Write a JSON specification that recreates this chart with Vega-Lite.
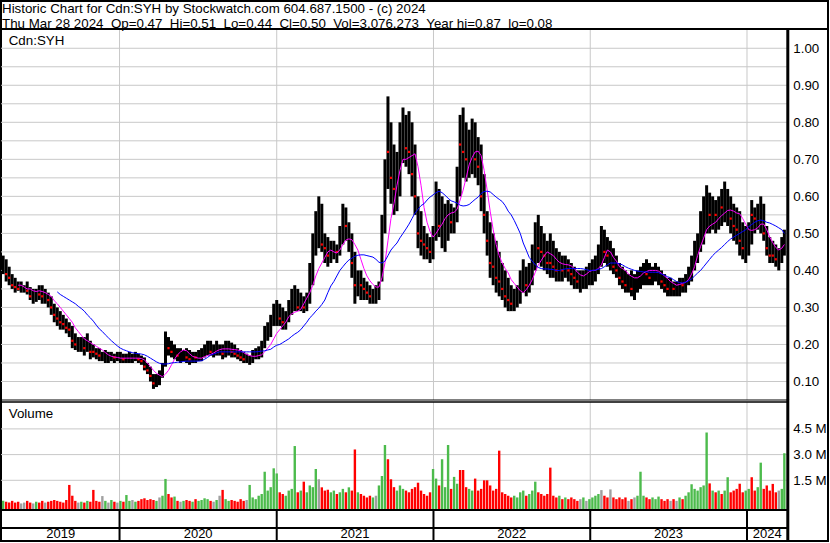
{
"$schema":"https://vega.github.io/schema/vega-lite/v6.json",
"width":827,"height":540,
"autosize":{"type":"none"},
"padding":{"left":1,"top":1,"right":2,"bottom":2},
"background":"white",
"title":{"text":["Historic Chart for Cdn:SYH by Stockwatch.com 604.687.1500 - (c) 2024","Thu Mar 28 2024\u00a0\u00a0Op=0.47\u00a0\u00a0Hi=0.51\u00a0\u00a0Lo=0.44\u00a0\u00a0Cl=0.50\u00a0\u00a0Vol=3,076,273\u00a0\u00a0Year hi=0.87\u00a0\u00a0lo=0.08"],"anchor":"start","frame":"group","orient":"top","offset":-29,"baseline":"top","lineHeight":15,"font":"Liberation Sans","fontSize":13.33,"fontWeight":"normal","color":"black","dx":1},
"config":{"view":{"stroke":"black","strokeWidth":2},"axis":{"grid":false,"domain":false,"ticks":false,"tickSize":0,"labelFont":"Liberation Sans","labelFontSize":13.33,"labelColor":"black","labelPadding":5}},
"datasets":{
"px":[
{"d":"2019-04-05","h":0.44,"l":0.39,"c":0.41,"v":0.3,"k":"g"},
{"d":"2019-04-12","h":0.43,"l":0.37,"c":0.39,"v":0.25,"k":"r"},
{"d":"2019-04-19","h":0.41,"l":0.36,"c":0.38,"v":0.2,"k":"r"},
{"d":"2019-04-26","h":0.39,"l":0.35,"c":0.36,"v":0.3,"k":"r"},
{"d":"2019-05-03","h":0.38,"l":0.34,"c":0.355,"v":0.2,"k":"r"},
{"d":"2019-05-10","h":0.37,"l":0.345,"c":0.35,"v":0.25,"k":"r","m":0.36},
{"d":"2019-05-17","h":0.37,"l":0.34,"c":0.35,"v":0.15,"k":"s","m":0.36},
{"d":"2019-05-24","h":0.36,"l":0.34,"c":0.35,"v":0.2,"k":"s","m":0.355},
{"d":"2019-05-31","h":0.37,"l":0.335,"c":0.345,"v":0.3,"k":"r","m":0.35},
{"d":"2019-06-07","h":0.355,"l":0.32,"c":0.33,"v":0.2,"k":"r","m":0.35},
{"d":"2019-06-14","h":0.35,"l":0.31,"c":0.33,"v":0.15,"k":"s","m":0.345},
{"d":"2019-06-21","h":0.35,"l":0.315,"c":0.34,"v":0.25,"k":"g","m":0.343},
{"d":"2019-06-28","h":0.36,"l":0.32,"c":0.335,"v":0.2,"k":"r","m":0.345},
{"d":"2019-07-05","h":0.36,"l":0.31,"c":0.33,"v":0.3,"k":"r","m":0.343},
{"d":"2019-07-12","h":0.35,"l":0.31,"c":0.33,"v":0.2,"k":"s","m":0.34},
{"d":"2019-07-19","h":0.34,"l":0.30,"c":0.32,"v":0.25,"k":"r","m":0.335},
{"d":"2019-07-26","h":0.33,"l":0.28,"c":0.30,"v":0.3,"k":"r","m":0.33},
{"d":"2019-08-02","h":0.31,"l":0.26,"c":0.28,"v":0.35,"k":"r","m":0.318},
{"d":"2019-08-09","h":0.30,"l":0.25,"c":0.27,"v":0.3,"k":"r","m":0.31,"n":0.342},
{"d":"2019-08-16","h":0.29,"l":0.24,"c":0.26,"v":0.25,"k":"r","m":0.30,"n":0.335},
{"d":"2019-08-23","h":0.28,"l":0.24,"c":0.255,"v":0.2,"k":"r","m":0.29,"n":0.33},
{"d":"2019-08-30","h":0.27,"l":0.23,"c":0.245,"v":0.35,"k":"r","m":0.28,"n":0.325},
{"d":"2019-09-06","h":0.26,"l":0.22,"c":0.24,"v":1.23,"k":"r","m":0.27,"n":0.32},
{"d":"2019-09-13","h":0.25,"l":0.19,"c":0.21,"v":0.6,"k":"r","m":0.26,"n":0.315},
{"d":"2019-09-20","h":0.23,"l":0.185,"c":0.20,"v":0.3,"k":"r","m":0.245,"n":0.31},
{"d":"2019-09-27","h":0.22,"l":0.18,"c":0.20,"v":0.2,"k":"s","m":0.235,"n":0.303},
{"d":"2019-10-04","h":0.22,"l":0.18,"c":0.20,"v":0.25,"k":"g","m":0.225,"n":0.297},
{"d":"2019-10-11","h":0.22,"l":0.17,"c":0.19,"v":0.2,"k":"r","m":0.215,"n":0.29},
{"d":"2019-10-18","h":0.23,"l":0.18,"c":0.195,"v":0.3,"k":"g","m":0.21,"n":0.28},
{"d":"2019-10-25","h":0.21,"l":0.16,"c":0.18,"v":0.25,"k":"r","m":0.205,"n":0.272},
{"d":"2019-11-01","h":0.20,"l":0.165,"c":0.18,"v":0.94,"k":"r","m":0.20,"n":0.263},
{"d":"2019-11-08","h":0.19,"l":0.16,"c":0.175,"v":0.3,"k":"r","m":0.195,"n":0.252},
{"d":"2019-11-15","h":0.19,"l":0.155,"c":0.17,"v":0.25,"k":"r","m":0.19,"n":0.242},
{"d":"2019-11-22","h":0.18,"l":0.155,"c":0.165,"v":0.58,"k":"s","m":0.185,"n":0.235},
{"d":"2019-11-29","h":0.185,"l":0.15,"c":0.165,"v":0.3,"k":"g","m":0.178,"n":0.226},
{"d":"2019-12-06","h":0.18,"l":0.15,"c":0.165,"v":0.2,"k":"s","m":0.172,"n":0.218},
{"d":"2019-12-13","h":0.18,"l":0.155,"c":0.17,"v":0.35,"k":"g","m":0.168,"n":0.21},
{"d":"2019-12-20","h":0.175,"l":0.15,"c":0.165,"v":0.25,"k":"r","m":0.166,"n":0.203},
{"d":"2019-12-27","h":0.18,"l":0.155,"c":0.165,"v":0.2,"k":"s","m":0.165,"n":0.196},
{"d":"2020-01-03","h":0.18,"l":0.15,"c":0.165,"v":0.3,"k":"g","m":0.163,"n":0.19},
{"d":"2020-01-10","h":0.175,"l":0.15,"c":0.16,"v":0.25,"k":"r","m":0.163,"n":0.186},
{"d":"2020-01-17","h":0.175,"l":0.15,"c":0.16,"v":0.64,"k":"g","m":0.163,"n":0.183},
{"d":"2020-01-24","h":0.18,"l":0.15,"c":0.165,"v":0.3,"k":"g","m":0.163,"n":0.18},
{"d":"2020-01-31","h":0.175,"l":0.15,"c":0.165,"v":0.35,"k":"s","m":0.163,"n":0.178},
{"d":"2020-02-07","h":0.18,"l":0.155,"c":0.165,"v":0.25,"k":"g","m":0.163,"n":0.176},
{"d":"2020-02-14","h":0.175,"l":0.15,"c":0.16,"v":0.3,"k":"r","m":0.163,"n":0.175},
{"d":"2020-02-21","h":0.17,"l":0.145,"c":0.155,"v":0.4,"k":"r","m":0.162,"n":0.174},
{"d":"2020-02-28","h":0.165,"l":0.13,"c":0.14,"v":0.45,"k":"r","m":0.158,"n":0.172},
{"d":"2020-03-06","h":0.15,"l":0.12,"c":0.13,"v":0.35,"k":"r","m":0.15,"n":0.168},
{"d":"2020-03-13","h":0.14,"l":0.10,"c":0.115,"v":0.4,"k":"r","m":0.14,"n":0.163},
{"d":"2020-03-20","h":0.12,"l":0.08,"c":0.095,"v":0.35,"k":"r","m":0.13,"n":0.158},
{"d":"2020-03-27","h":0.12,"l":0.085,"c":0.10,"v":0.3,"k":"g","m":0.122,"n":0.153},
{"d":"2020-04-03","h":0.13,"l":0.09,"c":0.12,"v":0.5,"k":"s","m":0.117,"n":0.149},
{"d":"2020-04-10","h":0.15,"l":0.11,"c":0.14,"v":0.6,"k":"g","m":0.113,"n":0.147},
{"d":"2020-04-17","h":0.235,"l":0.14,"c":0.20,"v":1.58,"k":"g","m":0.12,"n":0.147},
{"d":"2020-04-24","h":0.22,"l":0.17,"c":0.19,"v":0.7,"k":"r","m":0.13,"n":0.148},
{"d":"2020-05-01","h":0.21,"l":0.165,"c":0.18,"v":0.5,"k":"r","m":0.145,"n":0.15},
{"d":"2020-05-08","h":0.20,"l":0.16,"c":0.17,"v":0.55,"k":"g","m":0.16,"n":0.151},
{"d":"2020-05-15","h":0.19,"l":0.155,"c":0.17,"v":0.3,"k":"r","m":0.172,"n":0.152},
{"d":"2020-05-22","h":0.19,"l":0.15,"c":0.17,"v":0.25,"k":"s","m":0.18,"n":0.153},
{"d":"2020-05-29","h":0.185,"l":0.155,"c":0.175,"v":0.3,"k":"g","m":0.185,"n":0.154},
{"d":"2020-06-05","h":0.19,"l":0.15,"c":0.165,"v":0.35,"k":"r","m":0.183,"n":0.155},
{"d":"2020-06-12","h":0.185,"l":0.145,"c":0.16,"v":0.3,"k":"r","m":0.175,"n":0.155},
{"d":"2020-06-19","h":0.18,"l":0.15,"c":0.165,"v":0.25,"k":"g","m":0.168,"n":0.155},
{"d":"2020-06-26","h":0.18,"l":0.15,"c":0.165,"v":0.4,"k":"r","m":0.165,"n":0.155},
{"d":"2020-07-03","h":0.185,"l":0.155,"c":0.17,"v":0.3,"k":"g","m":0.163,"n":0.155},
{"d":"2020-07-10","h":0.19,"l":0.155,"c":0.175,"v":0.35,"k":"g","m":0.163,"n":0.156},
{"d":"2020-07-17","h":0.20,"l":0.165,"c":0.18,"v":0.45,"k":"g","m":0.167,"n":0.16},
{"d":"2020-07-24","h":0.21,"l":0.17,"c":0.19,"v":0.4,"k":"g","m":0.17,"n":0.165},
{"d":"2020-07-31","h":0.21,"l":0.17,"c":0.18,"v":0.3,"k":"r","m":0.173,"n":0.171},
{"d":"2020-08-07","h":0.20,"l":0.165,"c":0.18,"v":0.25,"k":"s","m":0.177,"n":0.174},
{"d":"2020-08-14","h":0.21,"l":0.17,"c":0.19,"v":0.35,"k":"g","m":0.182,"n":0.177},
{"d":"2020-08-21","h":0.20,"l":0.17,"c":0.18,"v":0.6,"k":"s","m":0.186,"n":0.18},
{"d":"2020-08-28","h":0.20,"l":0.16,"c":0.175,"v":0.94,"k":"r","m":0.188,"n":0.18},
{"d":"2020-09-04","h":0.21,"l":0.165,"c":0.18,"v":0.4,"k":"g","m":0.188,"n":0.18},
{"d":"2020-09-11","h":0.21,"l":0.17,"c":0.19,"v":0.3,"k":"g","m":0.188,"n":0.18},
{"d":"2020-09-18","h":0.205,"l":0.165,"c":0.18,"v":0.35,"k":"r","m":0.187,"n":0.18},
{"d":"2020-09-25","h":0.20,"l":0.165,"c":0.175,"v":0.3,"k":"r","m":0.186,"n":0.18},
{"d":"2020-10-02","h":0.19,"l":0.16,"c":0.17,"v":0.25,"k":"r","m":0.185,"n":0.18},
{"d":"2020-10-09","h":0.185,"l":0.155,"c":0.165,"v":0.4,"k":"r","m":0.183,"n":0.18},
{"d":"2020-10-16","h":0.18,"l":0.15,"c":0.16,"v":0.3,"k":"r","m":0.178,"n":0.18},
{"d":"2020-10-23","h":0.175,"l":0.15,"c":0.16,"v":0.35,"k":"s","m":0.173,"n":0.18},
{"d":"2020-10-30","h":0.17,"l":0.145,"c":0.155,"v":1.23,"k":"g","m":0.17,"n":0.18},
{"d":"2020-11-06","h":0.185,"l":0.15,"c":0.17,"v":0.5,"k":"g","m":0.168,"n":0.18},
{"d":"2020-11-13","h":0.19,"l":0.16,"c":0.175,"v":0.4,"k":"g","m":0.168,"n":0.18},
{"d":"2020-11-20","h":0.195,"l":0.16,"c":0.18,"v":0.6,"k":"g","m":0.17,"n":0.181},
{"d":"2020-11-27","h":0.21,"l":0.165,"c":0.19,"v":0.7,"k":"g","m":0.172,"n":0.182},
{"d":"2020-12-04","h":0.25,"l":0.19,"c":0.23,"v":2.0,"k":"g","m":0.18,"n":0.183},
{"d":"2020-12-11","h":0.26,"l":0.21,"c":0.24,"v":0.9,"k":"g","m":0.19,"n":0.185},
{"d":"2020-12-18","h":0.28,"l":0.22,"c":0.26,"v":1.1,"k":"g","m":0.20,"n":0.187},
{"d":"2020-12-25","h":0.31,"l":0.25,"c":0.28,"v":2.2,"k":"g","m":0.215,"n":0.193},
{"d":"2021-01-01","h":0.32,"l":0.25,"c":0.29,"v":1.9,"k":"g","m":0.23,"n":0.198},
{"d":"2021-01-08","h":0.31,"l":0.25,"c":0.27,"v":0.8,"k":"r","m":0.24,"n":0.20},
{"d":"2021-01-15","h":0.30,"l":0.24,"c":0.26,"v":0.7,"k":"r","m":0.25,"n":0.205},
{"d":"2021-01-22","h":0.29,"l":0.24,"c":0.27,"v":0.6,"k":"g","m":0.26,"n":0.21},
{"d":"2021-01-29","h":0.32,"l":0.26,"c":0.30,"v":0.9,"k":"g","m":0.275,"n":0.215},
{"d":"2021-02-05","h":0.35,"l":0.28,"c":0.32,"v":1.0,"k":"g","m":0.283,"n":0.222},
{"d":"2021-02-12","h":0.36,"l":0.29,"c":0.31,"v":3.5,"k":"g","m":0.287,"n":0.228},
{"d":"2021-02-19","h":0.35,"l":0.29,"c":0.30,"v":0.8,"k":"r","m":0.29,"n":0.233},
{"d":"2021-02-26","h":0.34,"l":0.29,"c":0.31,"v":0.9,"k":"g","m":0.295,"n":0.24},
{"d":"2021-03-05","h":0.33,"l":0.285,"c":0.30,"v":1.42,"k":"r","m":0.31,"n":0.25},
{"d":"2021-03-12","h":0.34,"l":0.29,"c":0.32,"v":0.8,"k":"g","m":0.325,"n":0.26},
{"d":"2021-03-19","h":0.42,"l":0.31,"c":0.38,"v":1.2,"k":"g","m":0.34,"n":0.272},
{"d":"2021-03-26","h":0.50,"l":0.36,"c":0.45,"v":1.1,"k":"g","m":0.36,"n":0.28},
{"d":"2021-04-02","h":0.56,"l":0.44,"c":0.50,"v":2.16,"k":"g","m":0.385,"n":0.29},
{"d":"2021-04-09","h":0.60,"l":0.46,"c":0.50,"v":1.56,"k":"s","m":0.405,"n":0.298},
{"d":"2021-04-16","h":0.58,"l":0.45,"c":0.47,"v":1.09,"k":"r","m":0.42,"n":0.308},
{"d":"2021-04-23","h":0.50,"l":0.42,"c":0.46,"v":0.9,"k":"r","m":0.435,"n":0.32},
{"d":"2021-04-30","h":0.49,"l":0.41,"c":0.44,"v":0.95,"k":"r","m":0.45,"n":0.34},
{"d":"2021-05-07","h":0.48,"l":0.42,"c":0.45,"v":0.8,"k":"g","m":0.455,"n":0.358},
{"d":"2021-05-14","h":0.48,"l":0.43,"c":0.46,"v":0.9,"k":"g","m":0.45,"n":0.37},
{"d":"2021-05-21","h":0.47,"l":0.42,"c":0.45,"v":0.7,"k":"r","m":0.447,"n":0.385},
{"d":"2021-05-28","h":0.52,"l":0.44,"c":0.48,"v":0.8,"k":"g","m":0.455,"n":0.40},
{"d":"2021-06-04","h":0.58,"l":0.47,"c":0.55,"v":1.0,"k":"g","m":0.47,"n":0.41},
{"d":"2021-06-11","h":0.57,"l":0.48,"c":0.52,"v":0.8,"k":"r","m":0.482,"n":0.42},
{"d":"2021-06-18","h":0.53,"l":0.45,"c":0.48,"v":1.09,"k":"g","m":0.485,"n":0.428},
{"d":"2021-06-25","h":0.50,"l":0.38,"c":0.42,"v":0.9,"k":"r","m":0.483,"n":0.433},
{"d":"2021-07-02","h":0.45,"l":0.31,"c":0.36,"v":3.3,"k":"r","m":0.47,"n":0.438},
{"d":"2021-07-09","h":0.40,"l":0.33,"c":0.37,"v":0.8,"k":"g","m":0.455,"n":0.441},
{"d":"2021-07-16","h":0.40,"l":0.32,"c":0.36,"v":0.7,"k":"r","m":0.43,"n":0.442},
{"d":"2021-07-23","h":0.38,"l":0.32,"c":0.35,"v":0.6,"k":"r","m":0.405,"n":0.442},
{"d":"2021-07-30","h":0.37,"l":0.32,"c":0.34,"v":0.5,"k":"r","m":0.385,"n":0.44},
{"d":"2021-08-06","h":0.36,"l":0.31,"c":0.33,"v":0.6,"k":"r","m":0.372,"n":0.438},
{"d":"2021-08-13","h":0.35,"l":0.31,"c":0.34,"v":0.5,"k":"g","m":0.362,"n":0.436},
{"d":"2021-08-20","h":0.36,"l":0.31,"c":0.34,"v":0.6,"k":"s","m":0.355,"n":0.43},
{"d":"2021-08-27","h":0.37,"l":0.32,"c":0.35,"v":1.2,"k":"g","m":0.355,"n":0.422},
{"d":"2021-09-03","h":0.55,"l":0.37,"c":0.50,"v":1.75,"k":"g","m":0.38,"n":0.42},
{"d":"2021-09-10","h":0.70,"l":0.50,"c":0.65,"v":3.56,"k":"g","m":0.42,"n":0.425},
{"d":"2021-09-17","h":0.87,"l":0.62,"c":0.72,"v":2.73,"k":"r","m":0.48,"n":0.44},
{"d":"2021-09-24","h":0.80,"l":0.58,"c":0.65,"v":1.56,"k":"r","m":0.54,"n":0.455},
{"d":"2021-10-01","h":0.74,"l":0.55,"c":0.62,"v":1.1,"k":"r","m":0.58,"n":0.465},
{"d":"2021-10-08","h":0.72,"l":0.56,"c":0.66,"v":0.9,"k":"g","m":0.63,"n":0.474},
{"d":"2021-10-15","h":0.80,"l":0.60,"c":0.74,"v":1.2,"k":"g","m":0.67,"n":0.488},
{"d":"2021-10-22","h":0.84,"l":0.69,"c":0.76,"v":1.0,"k":"g","m":0.70,"n":0.50},
{"d":"2021-10-29","h":0.82,"l":0.68,"c":0.73,"v":0.9,"k":"r","m":0.70,"n":0.512},
{"d":"2021-11-05","h":0.83,"l":0.66,"c":0.72,"v":0.8,"k":"r","m":0.705,"n":0.525},
{"d":"2021-11-12","h":0.80,"l":0.60,"c":0.66,"v":1.0,"k":"r","m":0.71,"n":0.54},
{"d":"2021-11-19","h":0.74,"l":0.55,"c":0.60,"v":1.1,"k":"r","m":0.715,"n":0.555},
{"d":"2021-11-26","h":0.60,"l":0.46,"c":0.50,"v":1.36,"k":"r","m":0.68,"n":0.565},
{"d":"2021-12-03","h":0.56,"l":0.44,"c":0.48,"v":0.9,"k":"r","m":0.63,"n":0.575},
{"d":"2021-12-10","h":0.52,"l":0.43,"c":0.47,"v":0.7,"k":"r","m":0.57,"n":0.58},
{"d":"2021-12-17","h":0.50,"l":0.43,"c":0.46,"v":0.6,"k":"r","m":0.53,"n":0.59},
{"d":"2021-12-24","h":0.49,"l":0.42,"c":0.45,"v":0.8,"k":"r","m":0.505,"n":0.598},
{"d":"2021-12-31","h":0.52,"l":0.43,"c":0.50,"v":2.16,"k":"g","m":0.49,"n":0.604},
{"d":"2022-01-07","h":0.64,"l":0.48,"c":0.55,"v":1.6,"k":"g","m":0.50,"n":0.61},
{"d":"2022-01-14","h":0.62,"l":0.49,"c":0.52,"v":1.2,"k":"r","m":0.513,"n":0.614},
{"d":"2022-01-21","h":0.60,"l":0.46,"c":0.50,"v":2.73,"k":"g","m":0.525,"n":0.61},
{"d":"2022-01-28","h":0.58,"l":0.45,"c":0.52,"v":1.1,"k":"g","m":0.54,"n":0.603},
{"d":"2022-02-04","h":0.59,"l":0.48,"c":0.55,"v":3.56,"k":"g","m":0.55,"n":0.595},
{"d":"2022-02-11","h":0.58,"l":0.50,"c":0.53,"v":1.0,"k":"r","m":0.555,"n":0.588},
{"d":"2022-02-18","h":0.57,"l":0.50,"c":0.55,"v":1.7,"k":"g","m":0.557,"n":0.585},
{"d":"2022-02-25","h":0.68,"l":0.53,"c":0.65,"v":1.3,"k":"g","m":0.565,"n":0.582},
{"d":"2022-03-04","h":0.82,"l":0.60,"c":0.74,"v":2.1,"k":"r","m":0.59,"n":0.576},
{"d":"2022-03-11","h":0.84,"l":0.65,"c":0.72,"v":2.1,"k":"r","m":0.617,"n":0.574},
{"d":"2022-03-18","h":0.80,"l":0.64,"c":0.70,"v":1.1,"k":"r","m":0.65,"n":0.575},
{"d":"2022-03-25","h":0.78,"l":0.65,"c":0.72,"v":1.0,"k":"g","m":0.685,"n":0.578},
{"d":"2022-04-01","h":0.81,"l":0.66,"c":0.74,"v":0.9,"k":"g","m":0.705,"n":0.585},
{"d":"2022-04-08","h":0.80,"l":0.65,"c":0.70,"v":1.6,"k":"r","m":0.72,"n":0.592},
{"d":"2022-04-15","h":0.76,"l":0.63,"c":0.68,"v":0.9,"k":"r","m":0.722,"n":0.598},
{"d":"2022-04-22","h":0.74,"l":0.56,"c":0.60,"v":1.0,"k":"r","m":0.71,"n":0.608},
{"d":"2022-04-29","h":0.66,"l":0.50,"c":0.55,"v":1.5,"k":"r","m":0.67,"n":0.613},
{"d":"2022-05-06","h":0.56,"l":0.44,"c":0.48,"v":1.5,"k":"r","m":0.617,"n":0.614},
{"d":"2022-05-13","h":0.53,"l":0.38,"c":0.42,"v":1.2,"k":"r","m":0.56,"n":0.612},
{"d":"2022-05-20","h":0.50,"l":0.36,"c":0.41,"v":0.9,"k":"r","m":0.51,"n":0.605},
{"d":"2022-05-27","h":0.48,"l":0.34,"c":0.38,"v":1.0,"k":"r","m":0.47,"n":0.598},
{"d":"2022-06-03","h":0.45,"l":0.33,"c":0.37,"v":3.23,"k":"r","m":0.44,"n":0.592},
{"d":"2022-06-10","h":0.42,"l":0.32,"c":0.35,"v":0.8,"k":"r","m":0.42,"n":0.586},
{"d":"2022-06-17","h":0.40,"l":0.30,"c":0.33,"v":0.7,"k":"r","m":0.405,"n":0.575},
{"d":"2022-06-24","h":0.38,"l":0.29,"c":0.32,"v":0.6,"k":"r","m":0.393,"n":0.56},
{"d":"2022-07-01","h":0.36,"l":0.29,"c":0.31,"v":0.5,"k":"r","m":0.375,"n":0.55},
{"d":"2022-07-08","h":0.35,"l":0.29,"c":0.32,"v":0.6,"k":"g","m":0.365,"n":0.535},
{"d":"2022-07-15","h":0.36,"l":0.30,"c":0.33,"v":0.5,"k":"g","m":0.355,"n":0.518},
{"d":"2022-07-22","h":0.40,"l":0.31,"c":0.37,"v":0.8,"k":"g","m":0.345,"n":0.50},
{"d":"2022-07-29","h":0.43,"l":0.34,"c":0.38,"v":0.9,"k":"g","m":0.34,"n":0.474},
{"d":"2022-08-05","h":0.41,"l":0.33,"c":0.36,"v":0.6,"k":"r","m":0.348,"n":0.455},
{"d":"2022-08-12","h":0.42,"l":0.34,"c":0.38,"v":0.7,"k":"g","m":0.36,"n":0.435},
{"d":"2022-08-19","h":0.47,"l":0.36,"c":0.44,"v":0.9,"k":"g","m":0.375,"n":0.425},
{"d":"2022-08-26","h":0.53,"l":0.40,"c":0.48,"v":1.42,"k":"g","m":0.395,"n":0.415},
{"d":"2022-09-02","h":0.55,"l":0.42,"c":0.46,"v":0.8,"k":"r","m":0.415,"n":0.408},
{"d":"2022-09-09","h":0.52,"l":0.41,"c":0.45,"v":0.7,"k":"r","m":0.427,"n":0.405},
{"d":"2022-09-16","h":0.50,"l":0.40,"c":0.44,"v":0.6,"k":"r","m":0.44,"n":0.404},
{"d":"2022-09-23","h":0.48,"l":0.39,"c":0.42,"v":0.7,"k":"r","m":0.45,"n":0.404},
{"d":"2022-09-30","h":0.50,"l":0.38,"c":0.42,"v":2.24,"k":"r","m":0.445,"n":0.403},
{"d":"2022-10-07","h":0.48,"l":0.38,"c":0.41,"v":0.6,"k":"r","m":0.44,"n":0.402},
{"d":"2022-10-14","h":0.46,"l":0.37,"c":0.40,"v":0.5,"k":"r","m":0.43,"n":0.40},
{"d":"2022-10-21","h":0.45,"l":0.37,"c":0.41,"v":0.6,"k":"g","m":0.422,"n":0.40},
{"d":"2022-10-28","h":0.44,"l":0.37,"c":0.40,"v":0.4,"k":"r","m":0.418,"n":0.402},
{"d":"2022-11-04","h":0.44,"l":0.38,"c":0.41,"v":0.5,"k":"g","m":0.416,"n":0.404},
{"d":"2022-11-11","h":0.43,"l":0.37,"c":0.40,"v":0.4,"k":"r","m":0.415,"n":0.405},
{"d":"2022-11-18","h":0.42,"l":0.36,"c":0.39,"v":0.5,"k":"r","m":0.412,"n":0.405},
{"d":"2022-11-25","h":0.41,"l":0.35,"c":0.38,"v":0.4,"k":"r","m":0.405,"n":0.405},
{"d":"2022-12-02","h":0.40,"l":0.35,"c":0.37,"v":0.3,"k":"r","m":0.395,"n":0.405},
{"d":"2022-12-09","h":0.40,"l":0.34,"c":0.37,"v":0.4,"k":"s","m":0.388,"n":0.405},
{"d":"2022-12-16","h":0.40,"l":0.35,"c":0.38,"v":0.5,"k":"g","m":0.385,"n":0.404},
{"d":"2022-12-23","h":0.41,"l":0.35,"c":0.38,"v":0.3,"k":"s","m":0.39,"n":0.402},
{"d":"2022-12-30","h":0.42,"l":0.36,"c":0.39,"v":0.4,"k":"g","m":0.397,"n":0.40},
{"d":"2023-01-06","h":0.43,"l":0.36,"c":0.40,"v":0.5,"k":"g","m":0.40,"n":0.40},
{"d":"2023-01-13","h":0.44,"l":0.37,"c":0.42,"v":0.6,"k":"g","m":0.40,"n":0.401},
{"d":"2023-01-20","h":0.47,"l":0.39,"c":0.44,"v":0.7,"k":"g","m":0.405,"n":0.403},
{"d":"2023-01-27","h":0.52,"l":0.41,"c":0.47,"v":0.93,"k":"s","m":0.415,"n":0.405},
{"d":"2023-02-03","h":0.51,"l":0.42,"c":0.45,"v":0.6,"k":"r","m":0.435,"n":0.41},
{"d":"2023-02-10","h":0.49,"l":0.41,"c":0.44,"v":0.5,"k":"r","m":0.455,"n":0.415},
{"d":"2023-02-17","h":0.48,"l":0.40,"c":0.42,"v":0.97,"k":"s","m":0.45,"n":0.42},
{"d":"2023-02-24","h":0.46,"l":0.39,"c":0.41,"v":0.5,"k":"r","m":0.435,"n":0.42},
{"d":"2023-03-03","h":0.44,"l":0.38,"c":0.40,"v":0.4,"k":"r","m":0.425,"n":0.42},
{"d":"2023-03-10","h":0.42,"l":0.36,"c":0.38,"v":0.5,"k":"r","m":0.41,"n":0.418},
{"d":"2023-03-17","h":0.41,"l":0.35,"c":0.37,"v":0.4,"k":"r","m":0.405,"n":0.415},
{"d":"2023-03-24","h":0.40,"l":0.34,"c":0.36,"v":0.5,"k":"r","m":0.40,"n":0.41},
{"d":"2023-03-31","h":0.39,"l":0.34,"c":0.36,"v":0.3,"k":"s","m":0.39,"n":0.406},
{"d":"2023-04-07","h":0.40,"l":0.33,"c":0.35,"v":0.4,"k":"r","m":0.384,"n":0.403},
{"d":"2023-04-14","h":0.39,"l":0.32,"c":0.35,"v":0.5,"k":"s","m":0.38,"n":0.40},
{"d":"2023-04-21","h":0.40,"l":0.34,"c":0.37,"v":0.6,"k":"g","m":0.38,"n":0.398},
{"d":"2023-04-28","h":0.41,"l":0.35,"c":0.38,"v":2.0,"k":"g","m":0.385,"n":0.397},
{"d":"2023-05-05","h":0.42,"l":0.36,"c":0.40,"v":0.6,"k":"g","m":0.393,"n":0.396},
{"d":"2023-05-12","h":0.43,"l":0.36,"c":0.39,"v":0.5,"k":"r","m":0.397,"n":0.396},
{"d":"2023-05-19","h":0.42,"l":0.36,"c":0.38,"v":0.4,"k":"r","m":0.40,"n":0.395},
{"d":"2023-05-26","h":0.41,"l":0.36,"c":0.39,"v":0.5,"k":"g","m":0.40,"n":0.395},
{"d":"2023-06-02","h":0.42,"l":0.37,"c":0.40,"v":0.4,"k":"g","m":0.40,"n":0.395},
{"d":"2023-06-09","h":0.41,"l":0.36,"c":0.38,"v":0.55,"k":"g","m":0.398,"n":0.394},
{"d":"2023-06-16","h":0.40,"l":0.35,"c":0.37,"v":0.4,"k":"r","m":0.392,"n":0.39},
{"d":"2023-06-23","h":0.39,"l":0.34,"c":0.36,"v":0.3,"k":"r","m":0.385,"n":0.387},
{"d":"2023-06-30","h":0.38,"l":0.33,"c":0.35,"v":0.4,"k":"r","m":0.378,"n":0.383},
{"d":"2023-07-07","h":0.38,"l":0.33,"c":0.35,"v":0.3,"k":"s","m":0.37,"n":0.38},
{"d":"2023-07-14","h":0.37,"l":0.33,"c":0.35,"v":0.4,"k":"r","m":0.365,"n":0.375},
{"d":"2023-07-21","h":0.37,"l":0.33,"c":0.35,"v":0.3,"k":"s","m":0.36,"n":0.37},
{"d":"2023-07-28","h":0.38,"l":0.33,"c":0.36,"v":0.5,"k":"g","m":0.362,"n":0.367},
{"d":"2023-08-04","h":0.38,"l":0.34,"c":0.36,"v":0.4,"k":"r","m":0.365,"n":0.366},
{"d":"2023-08-11","h":0.39,"l":0.34,"c":0.37,"v":0.6,"k":"g","m":0.368,"n":0.368},
{"d":"2023-08-18","h":0.41,"l":0.36,"c":0.39,"v":0.8,"k":"g","m":0.375,"n":0.372},
{"d":"2023-08-25","h":0.44,"l":0.37,"c":0.42,"v":1.27,"k":"g","m":0.39,"n":0.377},
{"d":"2023-09-01","h":0.48,"l":0.40,"c":0.45,"v":1.0,"k":"g","m":0.41,"n":0.385},
{"d":"2023-09-08","h":0.50,"l":0.42,"c":0.47,"v":0.9,"k":"g","m":0.44,"n":0.393},
{"d":"2023-09-15","h":0.56,"l":0.45,"c":0.52,"v":1.1,"k":"g","m":0.465,"n":0.40},
{"d":"2023-09-22","h":0.60,"l":0.47,"c":0.55,"v":1.2,"k":"g","m":0.487,"n":0.41},
{"d":"2023-09-29","h":0.63,"l":0.50,"c":0.56,"v":4.29,"k":"g","m":0.51,"n":0.42},
{"d":"2023-10-06","h":0.61,"l":0.50,"c":0.55,"v":1.32,"k":"r","m":0.52,"n":0.43},
{"d":"2023-10-13","h":0.60,"l":0.51,"c":0.56,"v":0.9,"k":"g","m":0.525,"n":0.44},
{"d":"2023-10-20","h":0.59,"l":0.50,"c":0.55,"v":0.8,"k":"r","m":0.53,"n":0.448},
{"d":"2023-10-27","h":0.60,"l":0.51,"c":0.57,"v":0.9,"k":"g","m":0.54,"n":0.455},
{"d":"2023-11-03","h":0.62,"l":0.52,"c":0.57,"v":0.7,"k":"r","m":0.548,"n":0.462},
{"d":"2023-11-10","h":0.64,"l":0.53,"c":0.58,"v":0.9,"k":"g","m":0.555,"n":0.47},
{"d":"2023-11-17","h":0.62,"l":0.52,"c":0.55,"v":1.68,"k":"g","m":0.562,"n":0.478},
{"d":"2023-11-24","h":0.60,"l":0.50,"c":0.54,"v":0.8,"k":"r","m":0.563,"n":0.485},
{"d":"2023-12-01","h":0.58,"l":0.48,"c":0.52,"v":0.9,"k":"r","m":0.56,"n":0.49},
{"d":"2023-12-08","h":0.57,"l":0.47,"c":0.51,"v":1.0,"k":"r","m":0.555,"n":0.495},
{"d":"2023-12-15","h":0.56,"l":0.44,"c":0.48,"v":1.3,"k":"r","m":0.553,"n":0.50},
{"d":"2023-12-22","h":0.53,"l":0.43,"c":0.46,"v":0.8,"k":"r","m":0.54,"n":0.505},
{"d":"2023-12-29","h":0.52,"l":0.42,"c":0.47,"v":0.9,"k":"g","m":0.525,"n":0.51},
{"d":"2024-01-05","h":0.53,"l":0.44,"c":0.48,"v":1.0,"k":"g","m":0.51,"n":0.518},
{"d":"2024-01-12","h":0.59,"l":0.47,"c":0.55,"v":1.68,"k":"r","m":0.508,"n":0.524},
{"d":"2024-01-19","h":0.57,"l":0.50,"c":0.54,"v":0.9,"k":"r","m":0.51,"n":0.53},
{"d":"2024-01-26","h":0.58,"l":0.51,"c":0.56,"v":1.1,"k":"g","m":0.515,"n":0.534},
{"d":"2024-02-02","h":0.60,"l":0.50,"c":0.57,"v":2.53,"k":"g","m":0.525,"n":0.536},
{"d":"2024-02-09","h":0.58,"l":0.48,"c":0.50,"v":1.0,"k":"r","m":0.525,"n":0.534},
{"d":"2024-02-16","h":0.52,"l":0.44,"c":0.46,"v":1.2,"k":"r","m":0.51,"n":0.53},
{"d":"2024-02-23","h":0.49,"l":0.42,"c":0.44,"v":0.9,"k":"r","m":0.49,"n":0.528},
{"d":"2024-03-01","h":0.48,"l":0.42,"c":0.44,"v":1.29,"k":"r","m":0.475,"n":0.524},
{"d":"2024-03-08","h":0.47,"l":0.41,"c":0.43,"v":0.8,"k":"r","m":0.462,"n":0.52},
{"d":"2024-03-15","h":0.46,"l":0.40,"c":0.43,"v":0.9,"k":"s","m":0.455,"n":0.515},
{"d":"2024-03-22","h":0.49,"l":0.42,"c":0.46,"v":1.0,"k":"g","m":0.46,"n":0.51},
{"d":"2024-03-28","h":0.51,"l":0.44,"c":0.50,"v":3.08,"k":"g","m":0.47,"n":0.50}
],
"yr":[{"d":"2020-01-01"},{"d":"2021-01-01"},{"d":"2022-01-01"},{"d":"2023-01-01"},{"d":"2024-01-01"}],
"lab":[{"t":"2019","d":"2019-08-17"},{"t":"2020","d":"2020-07-02"},{"t":"2021","d":"2021-07-02"},{"t":"2022","d":"2022-07-02"},{"t":"2023","d":"2023-07-02"},{"t":"2024","d":"2024-02-17"}],
"pg":[{"g":0.1},{"g":0.15},{"g":0.2},{"g":0.25},{"g":0.3},{"g":0.35},{"g":0.4},{"g":0.45},{"g":0.5},{"g":0.55},{"g":0.6},{"g":0.65},{"g":0.7},{"g":0.75},{"g":0.8},{"g":0.85},{"g":0.9},{"g":0.95},{"g":1.0}],
"vg":[{"g":1.5},{"g":3.0},{"g":4.5}],
"one":[{"t":""}],
"cdn":[{"t":"Cdn:SYH"}],
"vol":[{"t":"Volume"}]
},
"layer":[
{"layer":[
 {"data":{"name":"pg"},"mark":{"type":"rule","color":"#c8c8c8","strokeWidth":1},
  "encoding":{"x":{"datum":{"year":2019,"month":3,"date":31,"utc":true},"type":"temporal","scale":{"domain":[{"year":2019,"month":3,"date":31,"utc":true},{"year":2024,"month":4,"date":5,"utc":true}],"range":[0,786.8],"padding":0,"nice":false},"axis":null},
   "x2":{"datum":{"year":2024,"month":4,"date":5,"utc":true}},
   "y":{"field":"g","type":"quantitative","title":null,"scale":{"domain":[0.05,1.052],"range":[399,28],"nice":false,"zero":false,"padding":0},"axis":{"orient":"right","offset":-40.2,"values":[0.1,0.15,0.2,0.25,0.3,0.35,0.4,0.45,0.5,0.55,0.6,0.65,0.7,0.75,0.8,0.85,0.9,0.95,1.0],"format":".2f","labelPadding":5}}}},
 {"data":{"name":"yr"},"mark":{"type":"rule","color":"#c8c8c8","strokeWidth":1},
  "encoding":{"x":{"field":"d","type":"temporal","axis":null},"y":{"datum":1.052,"type":"quantitative","title":null},"y2":{"datum":0.05}}},
 {"data":{"name":"px"},"mark":{"type":"rule","color":"black","strokeWidth":3},
  "encoding":{"x":{"field":"d","type":"temporal","axis":null},"y":{"field":"l","type":"quantitative","title":null},"y2":{"field":"h"}}},
 {"data":{"name":"px"},"transform":[{"filter":"datum.k == 'r'"}],"mark":{"type":"square","color":"#ff0000","size":5,"opacity":1},
  "encoding":{"x":{"field":"d","type":"temporal","axis":null},"y":{"field":"c","type":"quantitative","title":null}}},
 {"data":{"name":"px"},"mark":{"type":"line","color":"#ff00ff","strokeWidth":1},
  "encoding":{"x":{"field":"d","type":"temporal","axis":null},"y":{"field":"m","type":"quantitative","title":null}}},
 {"data":{"name":"px"},"mark":{"type":"line","color":"#0000ff","strokeWidth":1},
  "encoding":{"x":{"field":"d","type":"temporal","axis":null},"y":{"field":"n","type":"quantitative","title":null}}},
 {"data":{"name":"one"},"mark":{"type":"rule","color":"black","strokeWidth":2},
  "encoding":{"y":{"datum":1.052,"type":"quantitative","title":null}}},
 {"data":{"name":"one"},"mark":{"type":"rule","color":"black","strokeWidth":1},
  "encoding":{"x":{"datum":{"year":2019,"month":3,"date":31,"utc":true},"type":"temporal","axis":null},"x2":{"datum":{"year":2024,"month":4,"date":5,"utc":true}},"y":{"datum":0.05,"type":"quantitative","title":null}}},
 {"data":{"name":"one"},"mark":{"type":"rule","color":"black","strokeWidth":3},
  "encoding":{"x":{"datum":{"year":2024,"month":4,"date":5,"utc":true},"type":"temporal","axis":null},"y":{"datum":1.052,"type":"quantitative","title":null},"y2":{"datum":0.05}}},
 {"data":{"name":"cdn"},"mark":{"type":"text","align":"left","baseline":"alphabetic","font":"Liberation Sans","fontSize":13.33,"color":"black"},
  "encoding":{"x":{"datum":{"year":2019,"month":4,"date":18,"utc":true},"type":"temporal","axis":null},"y":{"datum":1.009,"type":"quantitative","title":null},"text":{"field":"t"}}}
]},
{"layer":[
 {"data":{"name":"vg"},"mark":{"type":"rule","color":"#c8c8c8","strokeWidth":1},
  "encoding":{"x":{"datum":{"year":2019,"month":3,"date":31,"utc":true},"type":"temporal","axis":null},"x2":{"datum":{"year":2024,"month":4,"date":5,"utc":true}},
   "y":{"field":"g","type":"quantitative","title":null,"scale":{"domain":[-0.233,6.07],"range":[509,401],"nice":false,"zero":false,"padding":0},"axis":{"orient":"right","offset":-40.2,"values":[1.5,3.0,4.5],"labelExpr":"format(datum.value, '.1f') + ' M'","labelPadding":5}}}},
 {"data":{"name":"yr"},"mark":{"type":"rule","color":"#c8c8c8","strokeWidth":1},
  "encoding":{"x":{"field":"d","type":"temporal","axis":null},"y":{"datum":6.07,"type":"quantitative","title":null},"y2":{"datum":-0.233}}},
 {"data":{"name":"px"},"mark":{"type":"bar","size":2.4},
  "encoding":{"x":{"field":"d","type":"temporal","axis":null},"y":{"field":"v","type":"quantitative","title":null},"y2":{"datum":-0.233},
   "color":{"field":"k","type":"nominal","scale":{"domain":["g","r","s"],"range":["#4cbb4c","#ff0000","#a0a0a0"]},"legend":null}}},
 {"data":{"name":"one"},"mark":{"type":"rule","color":"black","strokeWidth":1.5},
  "encoding":{"x":{"datum":{"year":2019,"month":3,"date":31,"utc":true},"type":"temporal","axis":null},"x2":{"datum":{"year":2024,"month":4,"date":5,"utc":true}},"y":{"datum":6.07,"type":"quantitative","title":null}}},
 {"data":{"name":"one"},"mark":{"type":"rule","color":"black","strokeWidth":2},
  "encoding":{"x":{"datum":{"year":2019,"month":3,"date":31,"utc":true},"type":"temporal","axis":null},"x2":{"datum":{"year":2024,"month":4,"date":5,"utc":true}},"y":{"datum":-0.233,"type":"quantitative","title":null}}},
 {"data":{"name":"one"},"mark":{"type":"rule","color":"black","strokeWidth":3},
  "encoding":{"x":{"datum":{"year":2024,"month":4,"date":5,"utc":true},"type":"temporal","axis":null},"y":{"datum":6.2,"type":"quantitative","title":null},"y2":{"datum":-0.233}}},
 {"data":{"name":"vol"},"mark":{"type":"text","align":"left","baseline":"alphabetic","font":"Liberation Sans","fontSize":13.33,"color":"black"},
  "encoding":{"x":{"datum":{"year":2019,"month":4,"date":18,"utc":true},"type":"temporal","axis":null},"y":{"datum":5.12,"type":"quantitative","title":null},"text":{"field":"t"}}}
]},
{"layer":[
 {"data":{"name":"yr"},"mark":{"type":"rule","color":"black","strokeWidth":2},
  "encoding":{"x":{"field":"d","type":"temporal","axis":null},"y":{"datum":0,"type":"quantitative","title":null,"scale":{"domain":[0,31],"range":[540,509],"nice":false,"zero":false,"padding":0},"axis":null},"y2":{"datum":31}}},
 {"data":{"name":"one"},"mark":{"type":"rule","color":"black","strokeWidth":2},
  "encoding":{"x":{"datum":{"year":2019,"month":3,"date":31,"utc":true},"type":"temporal","axis":null},"x2":{"datum":{"year":2024,"month":4,"date":5,"utc":true}},"y":{"datum":13,"type":"quantitative","title":null}}},
 {"data":{"name":"one"},"mark":{"type":"rule","color":"black","strokeWidth":3},
  "encoding":{"x":{"datum":{"year":2024,"month":4,"date":5,"utc":true},"type":"temporal","axis":null},"y":{"datum":0,"type":"quantitative","title":null},"y2":{"datum":31}}},
 {"data":{"name":"lab"},"mark":{"type":"text","align":"center","baseline":"alphabetic","font":"Liberation Sans","fontSize":13,"color":"black"},
  "encoding":{"x":{"field":"d","type":"temporal","axis":null},"y":{"datum":2.7,"type":"quantitative","title":null},"text":{"field":"t"}}}
]}
],
"resolve":{"scale":{"y":"independent"},"axis":{"y":"independent"}}
}
